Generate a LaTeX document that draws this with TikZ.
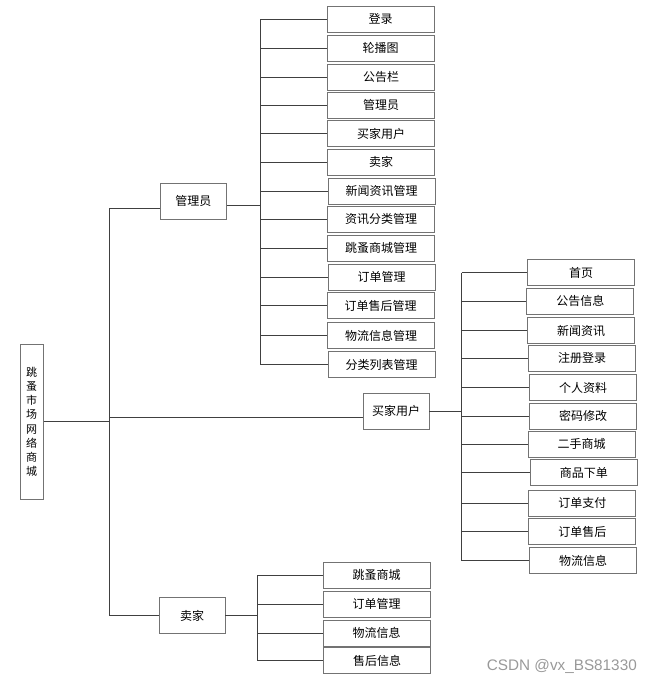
\documentclass[tikz,border=0pt]{standalone}
\usepackage{fontspec}
\setmainfont{Noto Sans CJK SC}
\newfontfamily\wmfont{Liberation Sans}
\tikzset{
  leaf/.style={draw=black!55, line width=0.9pt, minimum width=107pt, minimum height=26pt,
    inner sep=0pt, font=\fontsize{12}{13}\selectfont},
  mid/.style={leaf, minimum width=66pt, minimum height=36pt},
  conn/.style={draw=black!75, line width=0.8pt}
}

\begin{document}
\begin{tikzpicture}[x=1pt,y=-1pt]
  \useasboundingbox (0,0) rectangle (652,681);

  % root and second level
  \node[leaf, minimum width=23pt, minimum height=155pt, align=center,
    font=\fontsize{11}{14.25}\selectfont] (root) at (31.7,421.8)
    {跳\\蚤\\市\\场\\网\\络\\商\\城};
  \node[mid] (adm) at (193.3,201.3) {管理员};
  \node[mid] (buy) at (396,411) {买家用户};
  \node[mid] (sel) at (192,615.5) {卖家};

  % admin
  \node[leaf] (login)     at (380.5,19.3)  {登录};
  \node[leaf] (carousel)  at (380.5,48.2)  {轮播图};
  \node[leaf] (notice)    at (381,77.2)    {公告栏};
  \node[leaf] (admins)    at (381,105.4)   {管理员};
  \node[leaf] (buyers)    at (381,133.5)   {买家用户};
  \node[leaf] (sellers)   at (381,162.3)   {卖家};
  \node[leaf] (news)      at (381.5,191)   {新闻资讯管理};
  \node[leaf] (newscat)   at (381,219.2)   {资讯分类管理};
  \node[leaf] (mall)      at (381,248)     {跳蚤商城管理};
  \node[leaf] (orders)    at (381.5,277)   {订单管理};
  \node[leaf] (aftersale) at (380.5,305.8) {订单售后管理};
  \node[leaf] (logistics) at (381,335.5)   {物流信息管理};
  \node[leaf] (catlist)   at (381.5,364.7) {分类列表管理};

  % buyer
  \node[leaf] (home)    at (581.2,272.5) {首页};
  \node[leaf] (bnotice) at (580.3,301.3) {公告信息};
  \node[leaf] (bnews)   at (581.2,330.5) {新闻资讯};
  \node[leaf] (reg)     at (582,358.2)   {注册登录};
  \node[leaf] (profile) at (583,387.5)   {个人资料};
  \node[leaf] (pwd)     at (583,416.2)   {密码修改};
  \node[leaf] (used)    at (581.7,444.3) {二手商城};
  \node[leaf] (place)   at (583.8,472.8) {商品下单};
  \node[leaf] (pay)     at (582.3,503.2) {订单支付};
  \node[leaf] (bafter)  at (582.3,531.8) {订单售后};
  \node[leaf] (blog)    at (583,560.5)   {物流信息};

  % seller
  \node[leaf] (small)  at (376.7,575.2) {跳蚤商城};
  \node[leaf] (sorder) at (376.7,604.2) {订单管理};
  \node[leaf] (slog)   at (376.7,633)   {物流信息};
  \node[leaf] (safter) at (377.2,660.8) {售后信息};

  \coordinate (mainbus) at (109.5,0);
  \coordinate (admbus) at (260,0);
  \coordinate (buybus) at (461.7,0);
  \coordinate (selbus) at (257.3,0);
  \coordinate (admin) at ([yshift=-7pt]adm.west);
  \coordinate (admout) at ([yshift=-4pt]adm.east);
  \coordinate (buyin) at ([yshift=-6.5pt]buy.west);

  \draw[conn] (root.east) -- (root.east -| mainbus);
  \draw[conn] (mainbus |- admin) -- (mainbus |- sel.west);
  \draw[conn] (mainbus |- admin) -- (admin)
    (mainbus |- buyin) -- (buyin)
    (mainbus |- sel.west) -- (sel.west);

  \draw[conn] (admout) -- (admbus |- admout);
  \draw[conn] (admbus |- login.west) -- (admbus |- catlist.west);
  \draw[conn] (admbus |- login.west) -- (login.west)
    (admbus |- carousel.west) -- (carousel.west)
    (admbus |- notice.west) -- (notice.west)
    (admbus |- admins.west) -- (admins.west)
    (admbus |- buyers.west) -- (buyers.west)
    (admbus |- sellers.west) -- (sellers.west)
    (admbus |- news.west) -- (news.west)
    (admbus |- newscat.west) -- (newscat.west)
    (admbus |- mall.west) -- (mall.west)
    (admbus |- orders.west) -- (orders.west)
    (admbus |- aftersale.west) -- (aftersale.west)
    (admbus |- logistics.west) -- (logistics.west)
    (admbus |- catlist.west) -- (catlist.west);

  \draw[conn] (buy.east) -- (buy.east -| buybus);
  \draw[conn] (buybus |- home.west) -- (buybus |- blog.west);
  \draw[conn] (buybus |- home.west) -- (home.west)
    (buybus |- bnotice.west) -- (bnotice.west)
    (buybus |- bnews.west) -- (bnews.west)
    (buybus |- reg.west) -- (reg.west)
    (buybus |- profile.west) -- (profile.west)
    (buybus |- pwd.west) -- (pwd.west)
    (buybus |- used.west) -- (used.west)
    (buybus |- place.west) -- (place.west)
    (buybus |- pay.west) -- (pay.west)
    (buybus |- bafter.west) -- (bafter.west)
    (buybus |- blog.west) -- (blog.west);

  \draw[conn] (sel.east) -- (sel.east -| selbus);
  \draw[conn] (selbus |- small.west) -- (selbus |- safter.west);
  \draw[conn] (selbus |- small.west) -- (small.west)
    (selbus |- sorder.west) -- (sorder.west)
    (selbus |- slog.west) -- (slog.west)
    (selbus |- safter.west) -- (safter.west);

  \node[anchor=base west, inner sep=0pt, text=black!40,
    font=\wmfont\fontsize{15.3}{16}\selectfont] (wm) at (486.7,670) {CSDN @vx\_BS81330};
\end{tikzpicture}
\end{document}
